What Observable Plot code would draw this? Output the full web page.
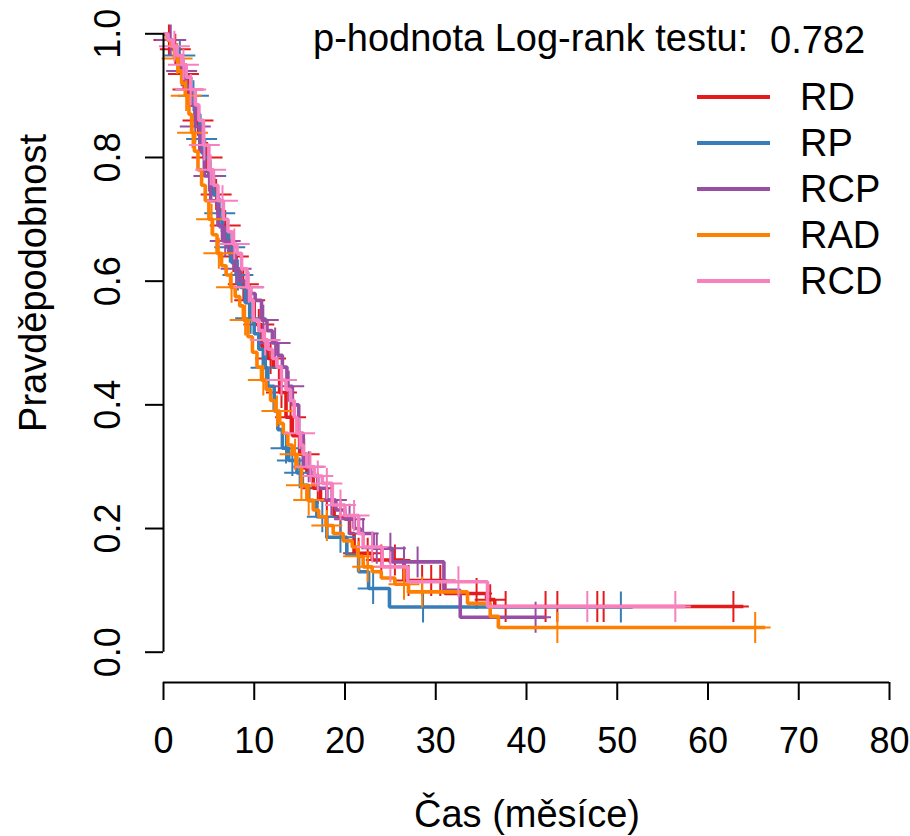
<!DOCTYPE html>
<html><head><meta charset="utf-8">
<script src="https://cdn.jsdelivr.net/npm/d3@7"></script>
<script src="https://cdn.jsdelivr.net/npm/@observablehq/plot@0.6"></script>
<style>
body{margin:0;background:#fff;}
#wrap{position:relative;width:910px;height:836px;font-family:"Liberation Sans",Arial,Helvetica,sans-serif;color:#000;}
.t{position:absolute;white-space:nowrap;line-height:1;}
</style></head><body><div id="wrap"></div>
<script>
const groups = ["RD","RP","RCP","RAD","RCD"];
const colors = ["#E41A1C","#377EB8","#984EA3","#FF7F00","#F781BF"];
const xTicks = [0,10,20,30,40,50,60,70,80];
const yTicks = [0,0.2,0.4,0.6,0.8,1.0];
const pLabel = "p-hodnota Log-rank testu:";
const pValue = "0.782";
const xTitle = "Čas (měsíce)";
const yTitle = "Pravděpodobnost";

// RD
const rdTime = [0.5,1,1.5,2,2.5,3,3.5,4,4.5,5,5.5,6,6.5,7,7.5,8,8.5,9,9.3,10,10.8,11.5,12.1,12.8,13.5,14.2,15,15.8,16.5,17.3,18.8,20.5,21,23,26.5,31,35.6,36.5];
const rdSurv = [0.99,0.975,0.955,0.935,0.91,0.885,0.86,0.83,0.80,0.77,0.74,0.715,0.69,0.665,0.64,0.615,0.595,0.58,0.569,0.53,0.495,0.475,0.461,0.42,0.38,0.35,0.32,0.29,0.265,0.246,0.219,0.192,0.16,0.149,0.116,0.095,0.085,0.074];
const rdEnd = 63.9;
const rdCens = [0.6,1.3,2.2,2.7,3.8,4.8,5.8,6.8,7.7,8.8,9.5,10.5,11.8,13.0,14.0,15.5,17.0,18.0,19.5,21.5,22.5,24.0,25.5,27.0,28.5,29.5,30.5,34.5,36.0,37.7,42.1,43.4,47.8,48.5,62.8];
// RP
const rpTime = [0.5,1,1.5,2,2.5,3,3.5,4,4.5,5,5.5,6,6.5,7,7.5,8,8.5,9,9.5,10,10.5,11,11.5,12.2,12.6,13.1,13.8,14.7,15.3,16,16.9,18,20.2,21.5,22.6,24.9];
const rpSurv = [0.99,0.98,0.965,0.95,0.93,0.90,0.87,0.83,0.80,0.77,0.74,0.71,0.68,0.655,0.63,0.61,0.59,0.565,0.54,0.515,0.49,0.46,0.43,0.39,0.36,0.33,0.31,0.29,0.27,0.245,0.219,0.186,0.157,0.13,0.103,0.073];
const rpEnd = 51.7;
const rpCens = [1.8,3.3,4.2,5.2,6.2,7.3,8.2,9.6,11.3,13.5,14.2,15.0,17.5,19.5,23.1,28.6,50.4];
// RCP
const rcpTime = [0.5,1,1.5,2,2.5,3,3.5,4,4.5,5.2,6,6.5,7.2,7.8,8.4,9,9.6,10.1,10.8,11.4,12,12.6,13.1,13.6,14.2,14.9,15.4,16.2,17,18,19,20,21,21.7,23.1,25.2,30.9,32.7];
const rcpSurv = [0.99,0.975,0.96,0.94,0.915,0.885,0.85,0.81,0.77,0.73,0.69,0.665,0.645,0.62,0.60,0.59,0.58,0.569,0.537,0.52,0.50,0.48,0.461,0.43,0.40,0.354,0.30,0.285,0.265,0.246,0.23,0.215,0.2,0.192,0.168,0.146,0.10,0.0566];
const rcpEnd = 42.1;
const rcpCens = [0.8,2.0,3.5,5.0,6.8,8.0,9.3,11.0,12.3,13.8,16.0,18.5,20.5,22.0,23.5,25.0,26.5,28.0,41.0];
// RAD
const radTime = [0.4,0.8,1.2,1.6,2,2.4,2.8,3.1,3.4,3.8,4.2,4.6,5,5.4,5.9,6.4,6.9,7.4,7.9,8.4,8.8,9.3,9.8,10.3,10.8,11.3,11.8,12.3,12.8,13.2,13.7,14.2,14.7,15.2,15.8,16.5,17.1,17.9,18.7,19.8,20.8,21.4,22,23,24,25.5,27,33.5,36,36.9];
const radSurv = [0.99,0.98,0.96,0.94,0.92,0.90,0.87,0.84,0.81,0.78,0.755,0.73,0.70,0.675,0.645,0.625,0.61,0.59,0.575,0.56,0.537,0.51,0.485,0.461,0.44,0.425,0.407,0.39,0.37,0.354,0.335,0.32,0.30,0.27,0.246,0.23,0.219,0.205,0.192,0.18,0.17,0.155,0.138,0.13,0.12,0.11,0.0975,0.079,0.058,0.04];
const radEnd = 66.3;
const radCens = [1.5,2.5,3.2,5.3,6.1,7.5,9.0,11.0,12.5,14.5,15.2,16.0,18.0,21.5,22.5,26.5,28.5,43.4,65.2];
// RCD
const rcdTime = [0.5,1,1.5,2,2.5,3,3.5,3.9,4.4,5,5.5,6,6.6,7.1,7.6,8.1,8.6,9.2,9.6,9.9,10.5,11,11.5,12,12.5,13,13.5,14,14.4,14.7,15.1,15.4,15.8,16.6,17.5,18.6,20,21.5,22,24.1,26.9,35.7];
const rcdSurv = [0.99,0.98,0.965,0.95,0.93,0.91,0.885,0.86,0.82,0.78,0.755,0.73,0.70,0.68,0.66,0.645,0.62,0.59,0.569,0.537,0.52,0.505,0.49,0.475,0.461,0.44,0.425,0.407,0.38,0.354,0.335,0.32,0.30,0.285,0.273,0.238,0.221,0.192,0.17,0.138,0.114,0.074];
const rcdEnd = 57.5;
const rcdCens = [1.2,2.2,3.0,4.5,5.2,6.5,7.8,9.4,11.2,13.0,15.0,16.2,17.0,18.0,19.5,21.0,23.0,25.0,32.5,46.7,56.4];

const series = [
  {g:"RD", time:rdTime, surv:rdSurv, end:rdEnd, cens:rdCens},
  {g:"RP", time:rpTime, surv:rpSurv, end:rpEnd, cens:rpCens},
  {g:"RCP", time:rcpTime, surv:rcpSurv, end:rcpEnd, cens:rcpCens},
  {g:"RAD", time:radTime, surv:radSurv, end:radEnd, cens:radCens},
  {g:"RCD", time:rcdTime, surv:rcdSurv, end:rcdEnd, cens:rcdCens}
];
function survAt(sr, t){ let s = 1; sr.time.forEach((u,i)=>{ if(u<=t) s = sr.surv[i]; }); return s; }

const W=910, H=836, L=163, R=889, Y0=651.7, Y1=33.3, AX=682;
const marks = [];
series.forEach((sr,k)=>{
  const col = colors[k];
  const pts = [{t:0,s:1}, ...sr.time.map((t,i)=>({t, s:sr.surv[i]})), {t:sr.end, s:sr.surv[sr.surv.length-1]}];
  marks.push(Plot.line(pts, {x:"t", y:"s", curve:"step-after", stroke:col, strokeWidth:3.6, strokeLinejoin:"miter", strokeLinecap:"butt"}));
  marks.push(Plot.dot(sr.cens.map(t=>({t, s:survAt(sr,t)})), {x:"t", y:"s", symbol:"plus", r:10, stroke:col, strokeWidth:2}));
});
marks.push(Plot.axisY(yTicks, {tickSize:18, fill:"none", stroke:"black", strokeWidth:2}));
marks.push(Plot.axisX(xTicks, {tickSize:18, fill:"none", stroke:"black", strokeWidth:2}));
marks.push(Plot.ruleX([xTicks[0]], {y1:yTicks[0], y2:yTicks[yTicks.length-1], stroke:"black", strokeWidth:2}));
marks.push(Plot.ruleY([yTicks[0]], {x1:xTicks[0], x2:xTicks[xTicks.length-1], dy:AX-Y0, stroke:"black", strokeWidth:2}));
marks.push(Plot.text(xTicks, {x:d=>d, text:d=>String(d), frameAnchor:"bottom", dy:58.5, lineAnchor:"middle", fontSize:36, fill:"black"}));
marks.push(Plot.text(yTicks, {y:d=>d, text:d=>d3.format(".1f")(d), frameAnchor:"left", dx:-55, rotate:-90, textAnchor:"middle", lineAnchor:"middle", fontSize:36, fill:"black"}));

const svg = Plot.plot({
  width:W, height:H,
  marginLeft:L, marginRight:W-R, marginTop:Y1, marginBottom:H-AX,
  x:{domain:[xTicks[0], xTicks[xTicks.length-1]], range:[L,R]},
  y:{domain:[yTicks[0], yTicks[yTicks.length-1]], range:[Y0,Y1]},
  style:{fontFamily:'"Liberation Sans",Arial,Helvetica,sans-serif', background:"white", color:"black"},
  marks
});
const wrap = document.getElementById("wrap");
wrap.appendChild(svg);

function addText(txt, left, cy, fs, extra){
  const d = document.createElement("div");
  d.className = "t"; d.textContent = txt;
  d.style.fontSize = fs+"px"; d.style.left = left+"px"; d.style.top = (cy - fs/2)+"px";
  if (extra) Object.assign(d.style, extra);
  wrap.appendChild(d); return d;
}
addText(pLabel, 313, 38, 38);
addText(pValue, 770, 40, 38);
groups.forEach((g,i)=>{
  const cy = 97 + 46*i;
  const ln = document.createElement("div");
  Object.assign(ln.style, {position:"absolute", left:"697px", top:(cy-1.7)+"px", width:"73px", height:"3.4px", background:colors[i]});
  wrap.appendChild(ln);
  addText(g, 800, cy, 38);
});
// axis titles
const xt = addText(xTitle, 0, 814, 38, {textAlign:"center"});
xt.style.left = "0px"; xt.style.width = (2*527)+"px";
const yt = document.createElement("div");
yt.className = "t"; yt.textContent = yTitle;
Object.assign(yt.style, {fontSize:"38px", left:"33px", top:"283px", transform:"translate(-50%,-50%) rotate(-90deg)"});
wrap.appendChild(yt);
</script></body></html>
